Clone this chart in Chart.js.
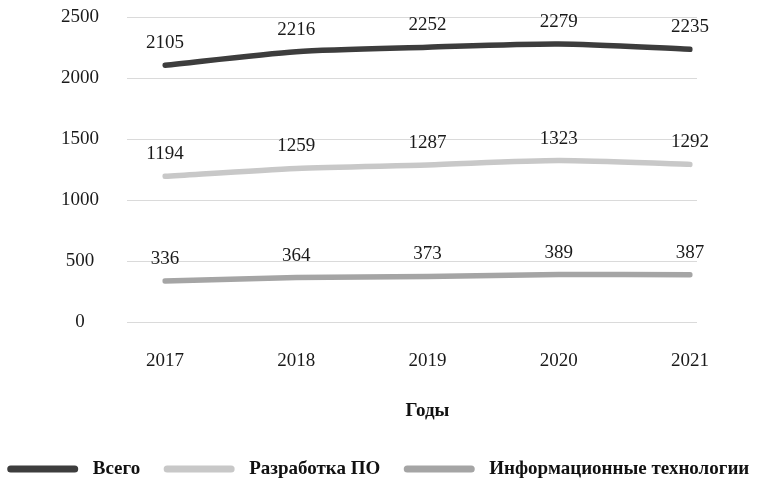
<!DOCTYPE html>
<html>
<head>
<meta charset="utf-8">
<script src="https://cdn.jsdelivr.net/npm/chart.js@4/dist/chart.umd.min.js"></script>
<style>
    html, body { margin: 0; padding: 0; background: #fff; }
    #wrap { width: 757px; height: 478px; }
</style>
</head>
<body>
<div id="wrap"><canvas id="lineChart" width="757" height="478"></canvas></div>
<script>
const years = ["2017", "2018", "2019", "2020", "2021"];
const totalValues = [2105, 2216, 2252, 2279, 2235];
const softwareValues = [1194, 1259, 1287, 1323, 1292];
const itValues = [336, 364, 373, 389, 387];
const yTicks = [0, 500, 1000, 1500, 2000, 2500];

const seriesNames = ["Всего", "Разработка ПО", "Информационные технологии"];
const seriesColors = ["#3d3d3d", "#c8c8c8", "#a5a5a5"];

const serif = "'Liberation Serif', 'Times New Roman', serif";

function makeDataset(index, values) {
    return {
        label: seriesNames[index],
        data: values,
        borderColor: seriesColors[index],
        backgroundColor: seriesColors[index],
        borderWidth: 5.5,
        borderCapStyle: "round",
        borderJoinStyle: "round",
        tension: 0.25,
        pointRadius: 0,
        pointHoverRadius: 0,
        fill: false
    };
}

// horizontal grid lines, a bit wider than the plot area like the original
const gridPlugin = {
    id: "wideGrid",
    beforeDatasetsDraw(chart) {
        const c = chart.ctx;
        const y = chart.scales.y;
        const area = chart.chartArea;
        c.save();
        c.strokeStyle = "#dadada";
        c.lineWidth = 1;
        y.ticks.forEach(t => {
            const py = Math.round(y.getPixelForValue(t.value)) + 0.5;
            c.beginPath();
            c.moveTo(area.left - 38, py);
            c.lineTo(area.right + 7, py);
            c.stroke();
        });
        c.restore();
    }
};

const valueLabelPlugin = {
    id: "valueLabels",
    afterDatasetsDraw(chart) {
        const c = chart.ctx;
        c.save();
        c.font = "19px " + serif;
        c.fillStyle = "#1a1a1a";
        c.textAlign = "center";
        c.textBaseline = "middle";
        chart.data.datasets.forEach((ds, i) => {
            const meta = chart.getDatasetMeta(i);
            meta.data.forEach((pt, j) => {
                c.fillText(String(ds.data[j]), pt.x, pt.y - 22);
            });
        });
        c.restore();
    }
};

const legendPlugin = {
    id: "lineLegend",
    afterDraw(chart) {
        const c = chart.ctx;
        const sampleW = 70;
        const gapText = 15;
        const gapItem = 24;
        const yMid = 469;
        c.save();
        c.font = "bold 19px " + serif;
        c.textBaseline = "middle";
        const widths = seriesNames.map(n => c.measureText(n).width);
        let total = 0;
        widths.forEach(w => { total += sampleW + gapText + w; });
        total += gapItem * (widths.length - 1);
        let x = (chart.width - total) / 2;
        seriesNames.forEach((name, i) => {
            c.strokeStyle = seriesColors[i];
            c.lineWidth = 7;
            c.lineCap = "round";
            c.beginPath();
            c.moveTo(x + 3, yMid);
            c.lineTo(x + sampleW - 3, yMid);
            c.stroke();
            x += sampleW + gapText;
            c.fillStyle = "#111";
            c.textAlign = "left";
            c.fillText(name, x, yMid);
            x += widths[i] + gapItem;
        });
        c.restore();
    }
};

new Chart(document.getElementById("lineChart"), {
    type: "line",
    data: {
        labels: years,
        datasets: [
            makeDataset(0, totalValues),
            makeDataset(1, softwareValues),
            makeDataset(2, itValues)
        ]
    },
    options: {
        responsive: false,
        animation: false,
        devicePixelRatio: 1,
        layout: {
            padding: { top: 17, right: 67, bottom: 56, left: 0 }
        },
        plugins: {
            legend: { display: false },
            tooltip: { enabled: false }
        },
        scales: {
            x: {
                offset: false,
                grid: { display: false, drawTicks: false },
                border: { display: false },
                ticks: {
                    color: "#1a1a1a",
                    font: { family: serif, size: 19 },
                    padding: 28,
                    maxRotation: 0
                },
                title: {
                    display: true,
                    text: "Годы",
                    color: "#111",
                    font: { family: serif, size: 19, weight: "bold" },
                    padding: { top: 0, bottom: 0 }
                },
                afterFit(scale) {
                    scale.height = 100;
                }
            },
            y: {
                min: 0,
                max: 2500,
                afterBuildTicks(scale) {
                    scale.ticks = yTicks.map(v => ({ value: v }));
                },
                grid: { display: false, drawTicks: false },
                border: { display: false },
                ticks: {
                    color: "#1a1a1a",
                    font: { family: serif, size: 19 },
                    padding: 66,
                    crossAlign: "center",
                    callback: v => String(v)
                },
                afterFit(scale) {
                    scale.width = 165;
                    // the big label padding should not push the plot down
                    scale.paddingTop = 0;
                    scale.paddingBottom = 0;
                }
            }
        }
    },
    plugins: [gridPlugin, valueLabelPlugin, legendPlugin]
});
</script>
</body>
</html>
